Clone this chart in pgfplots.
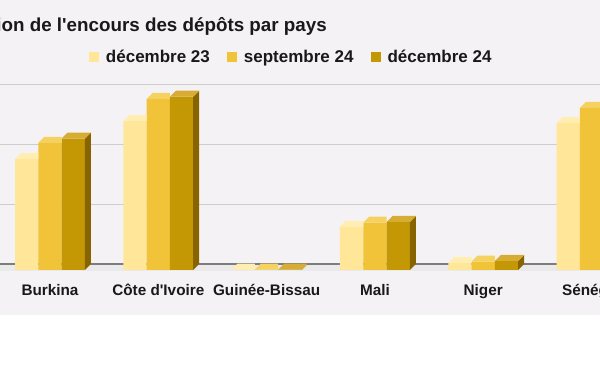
\documentclass[border=0pt]{standalone}
\usepackage{fontspec}
\setmainfont{Liberation Sans}
\usepackage{pgfplots}
\usepackage{pgfplotstable}
\pgfplotsset{compat=1.18}

\definecolor{bgc}{RGB}{245,242,245}
\definecolor{floorc}{RGB}{235,234,235}
\definecolor{gridc}{RGB}{205,205,205}
\definecolor{basec}{RGB}{125,125,125}
\definecolor{fA}{RGB}{255,230,153}
\definecolor{tA}{RGB}{255,237,178}
\definecolor{sA}{RGB}{225,200,120}
\definecolor{fB}{RGB}{240,195,56}
\definecolor{tB}{RGB}{245,210,95}
\definecolor{sB}{RGB}{190,150,30}
\definecolor{fC}{RGB}{196,152,4}
\definecolor{tC}{RGB}{214,172,52}
\definecolor{sC}{RGB}{135,100,0}

\pgfplotstableread{
cat d23 s24 d24
0 1850 2120 2190
1 2480 2850 2890
2 8 8 8
3 720 790 800
4 120 140 150
5 2450 2700 2800
}\datatable

\newif\ifcubeside
\tikzset{cube top color/.store in=\cubetopcolor,
         cube side color/.store in=\cubesidecolor,
         cube side/.is if=cubeside,
         cube top color=white, cube side color=gray, cube side=true}
\makeatletter
\pgfdeclareplotmark{cube3d}{%
  \edef\cubeH{\the\dimexpr\pgf@pt@y-3pt\relax}%
  \ifcubeside
    \pgfpathmoveto{\pgfqpoint{11.65pt}{0pt}}%
    \pgfpathlineto{\pgfqpoint{17.65pt}{6pt}}%
    \pgfpathlineto{\pgfqpoint{17.65pt}{\dimexpr 6pt-\cubeH\relax}}%
    \pgfpathlineto{\pgfqpoint{11.65pt}{\dimexpr -\cubeH\relax}}%
    \pgfpathclose
    \pgfsetfillcolor{\cubesidecolor}\pgfusepath{fill}%
    \pgfpathmoveto{\pgfqpoint{-11.65pt}{0pt}}%
    \pgfpathlineto{\pgfqpoint{11.65pt}{0pt}}%
    \pgfpathlineto{\pgfqpoint{17.65pt}{6pt}}%
    \pgfpathlineto{\pgfqpoint{-5.65pt}{6pt}}%
    \pgfpathclose
  \else
    \pgfpathmoveto{\pgfqpoint{-11.65pt}{0pt}}%
    \pgfpathlineto{\pgfqpoint{11.65pt}{0pt}}%
    \pgfpathlineto{\pgfqpoint{11.65pt}{6pt}}%
    \pgfpathlineto{\pgfqpoint{-5.65pt}{6pt}}%
    \pgfpathclose
  \fi
  \pgfsetfillcolor{\cubetopcolor}\pgfusepath{fill}%
}
\makeatother

\begin{document}
\begin{tikzpicture}[x=1pt,y=1pt]
\path[use as bounding box] (0,0) rectangle (600,372);
\clip (0,0) rectangle (600,372);
\fill[white] (0,0) rectangle (600,372);
\fill[bgc] (0,57) rectangle (600,372);
\begin{axis}[
  at={(0pt,99pt)}, anchor=south west,
  x=108.3pt, y=0.06pt,
  xmin=-0.46168, xmax=5.07849, ymin=-50, ymax=3200,
  clip=false,
  axis line style={draw=none}, tick style={draw=none},
  xtick={0,1,2,3,4,5},
  xticklabels={Burkina, C\^ote d\textquotesingle Ivoire, Guinée-Bissau, Mali, Niger, Sénégal},
  xticklabel style={anchor=base, yshift=-23pt, font=\bfseries\fontsize{15.3}{18}\selectfont, text=black!90},
  ytick={1100,2100,3100}, yticklabels={},
  ymajorgrids, grid style={gridc, line width=0.8pt},
  extra y ticks={100}, extra y tick labels={},
  extra y tick style={grid style={basec, line width=1.3pt}},
  legend columns=3,
  legend image code/.code={\fill[#1] (0pt,-5pt) rectangle (10pt,5pt);},
  legend style={at={(0.1483,1.1051)}, anchor=west, draw=none, fill=none,
    inner sep=0pt, outer sep=0pt,
    font=\bfseries\fontsize{17}{20}\selectfont, text=black!90,
    nodes={inner sep=0pt},
    /tikz/every odd column/.append style={column sep=7pt},
    /tikz/every even column/.append style={column sep=17pt}},
]
\fill[floorc] (axis cs:-1,-25) rectangle (axis cs:6,90);

\addplot[ybar, bar width=23.3pt, bar shift=0pt, xshift=-23.3pt, fill=fA, draw=none,
  mark=cube3d, cube top color=tA, cube side color=sA, cube side=false, forget plot]
  table[x=cat, y=d23] {\datatable};
\addplot[ybar, bar width=23.3pt, bar shift=0pt, fill=fB, draw=none,
  mark=cube3d, cube top color=tB, cube side color=sB, cube side=false, forget plot]
  table[x=cat, y=s24] {\datatable};
\addplot[ybar, bar width=23.3pt, bar shift=0pt, xshift=23.3pt, fill=fC, draw=none,
  mark=cube3d, cube top color=tC, cube side color=sC, cube side=true, forget plot]
  table[x=cat, y=d24] {\datatable};

\addlegendimage{fill=fA, draw=none}
\addlegendentry{décembre 23}
\addlegendimage{fill=fB, draw=none}
\addlegendentry{septembre 24}
\addlegendimage{fill=fC, draw=none}
\addlegendentry{décembre 24}
\end{axis}
\node[anchor=base east, font=\bfseries\fontsize{18.8}{22}\selectfont, text=black!90, inner sep=0pt]
  at (327,340) {Évolution de l\textquotesingle encours des dépôts par pays};
\end{tikzpicture}
\end{document}
